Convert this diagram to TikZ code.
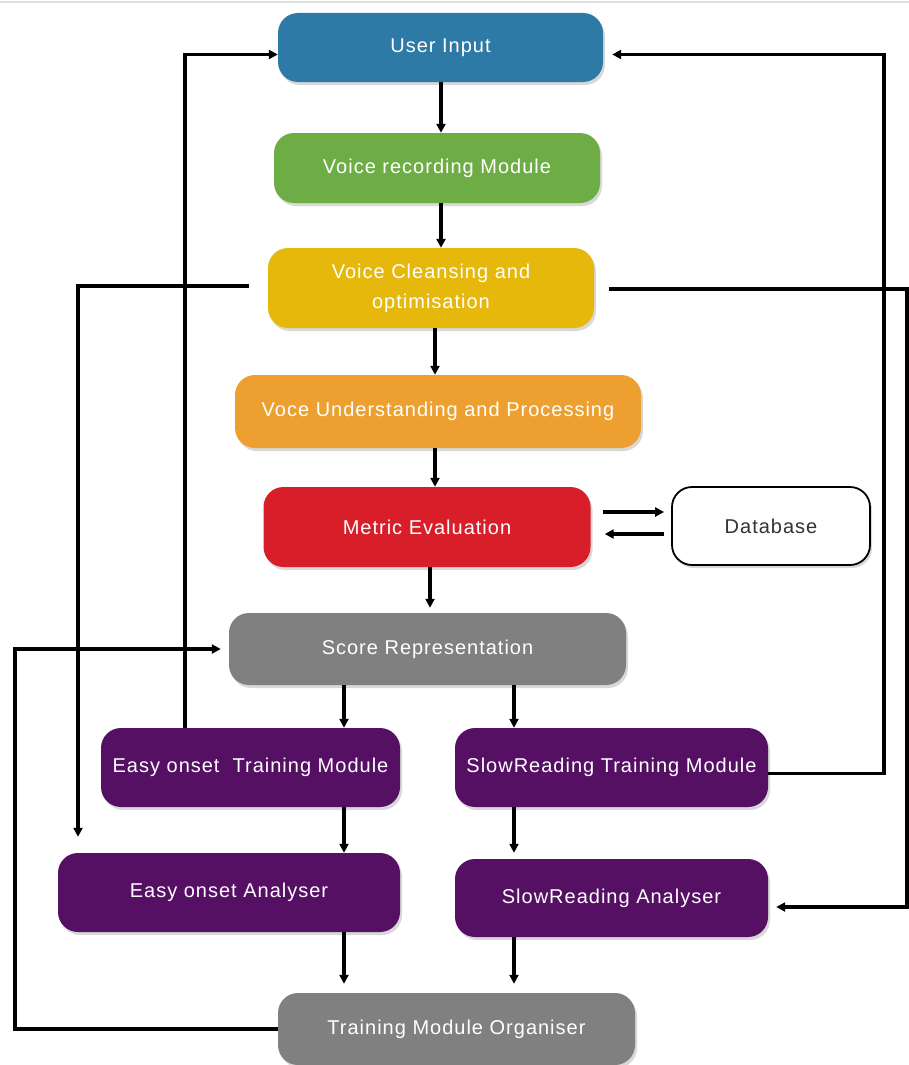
\documentclass[tikz,border=0pt]{standalone}
\usepackage{fontspec}
\setmainfont{Liberation Sans}[LetterSpace=5]
\usetikzlibrary{arrows.meta,shadows,calc}
\definecolor{cblue}{HTML}{2E7AA6}
\definecolor{cgreen}{HTML}{6EAD45}
\definecolor{cyellow}{HTML}{E6B80C}
\definecolor{corange}{HTML}{EDA030}
\definecolor{cred}{HTML}{D81E28}
\definecolor{cgray}{HTML}{808080}
\definecolor{cpurple}{HTML}{551064}
\definecolor{ctext}{HTML}{333333}
\begin{document}
\begin{tikzpicture}[x=1pt,y=-1pt,
  box/.style={rounded corners=20pt, inner sep=4pt, align=center, text=white,
    font=\fontsize{20}{30}\selectfont,
    drop shadow={shadow xshift=2pt, shadow yshift=-3pt, opacity=0.3}},
  arr/.style={line width=3.2pt, -{Triangle[length=9pt,width=9pt]}},
  ln/.style={line width=3.2pt}]
\useasboundingbox (0,0) rectangle (909,1065);
\fill[white] (0,0) rectangle (909,1065);
\draw[gray!25, line width=2pt] (0,2) -- (909,2);

% nodes
\node[box, fill=cblue, minimum width=325pt, minimum height=69pt] (ui) at (440.5,47.5) {User Input};
\node[box, fill=cgreen, minimum width=326pt, minimum height=70pt] (vr) at (437,168) {Voice recording Module};
\node[box, fill=cyellow, minimum width=326pt, minimum height=80pt] (cl) at (431,288) {Voice Cleansing and\\optimisation};
\node[box, fill=corange, minimum width=406pt, minimum height=73pt] (un) at (438,411.5) {Voce Understanding and Processing};
\node[box, fill=cred, minimum width=327pt, minimum height=80pt] (me) at (427,527) {Metric Evaluation};
\node[box, fill=white, draw=black, line width=1.8pt, text=ctext, minimum width=198pt, minimum height=78pt] (db) at (771,526) {Database};
\node[box, fill=cgray, minimum width=397pt, minimum height=72pt] (sc) at (427.5,649) {Score Representation};
\node[box, fill=cpurple, minimum width=299pt, minimum height=79pt] (et) at (250.5,767.5) {Easy onset~ Training Module};
\node[box, fill=cpurple, minimum width=313pt, minimum height=79pt] (st) at (611.5,767.5) {SlowReading Training Module};
\node[box, fill=cpurple, minimum width=342pt, minimum height=79pt] (ea) at (229,892.5) {Easy onset Analyser};
\node[box, fill=cpurple, minimum width=313pt, minimum height=78pt] (sa) at (611.5,898) {SlowReading Analyser};
\node[box, fill=cgray, minimum width=357pt, minimum height=72pt] (og) at (456.5,1029) {Training Module Organiser};

% routing coordinates
\coordinate (a1) at (441,0);
\coordinate (a2) at (435,0);
\coordinate (a3) at (430,0);
\coordinate (a4) at (344,0);
\coordinate (a5) at (514,0);
\coordinate (L0) at (15,0);
\coordinate (L1) at (185,0);
\coordinate (L2) at (78,0);
\coordinate (R1) at (884,0);
\coordinate (R2) at (907,0);

% main flow
\draw[arr] (ui.south -| a1) -- (vr.north -| a1);
\draw[arr] (vr.south -| a1) -- (cl.north -| a1);
\draw[arr] (cl.south -| a2) -- (un.north -| a2);
\draw[arr] (un.south -| a2) -- (me.north -| a2);
\draw[arr, shorten >=5pt] (me.south -| a3) -- (sc.north -| a3);
\draw[arr] (sc.south -| a4) -- (et.north -| a4);
\draw[arr] (sc.south -| a5) -- (st.north -| a5);
\draw[arr] (et.south -| a4) -- (ea.north -| a4);
\draw[arr, shorten >=6pt] (st.south -| a5) -- (sa.north -| a5);
\draw[arr, shorten >=9pt] (ea.south -| a4) -- (og.north -| a4);
\draw[arr, shorten >=9pt] (sa.south -| a5) -- (og.north -| a5);

% database
\draw[arr] ($(me.east)+(12,-15)$) -- ($(me.east -| db.west)+(-7,-15)$);
\draw[arr] ($(me.east -| db.west)+(-7,7)$) -- ($(me.east)+(14,7)$);

% feedback loops
\draw[arr] (et.north -| L1) |- ($(ui.west)+(0,7)$);
\draw[arr, shorten >=16pt] ($(cl.west)+(-19,-2)$) -| (ea.north -| L2);
\draw[arr] ($(cl.east)+(15,1)$) -| ($(sa.east -| R2)+(0,9)$) -- ($(sa.east)+(8,9)$);
\draw[arr] ($(st.east)+(0,6)$) -| ($(ui.east -| R1)+(0,7)$) -- ($(ui.east)+(9,7)$);
\draw[arr, shorten >=8pt] (og.west) -| (sc.west -| L0) -- (sc.west);
\end{tikzpicture}
\end{document}
